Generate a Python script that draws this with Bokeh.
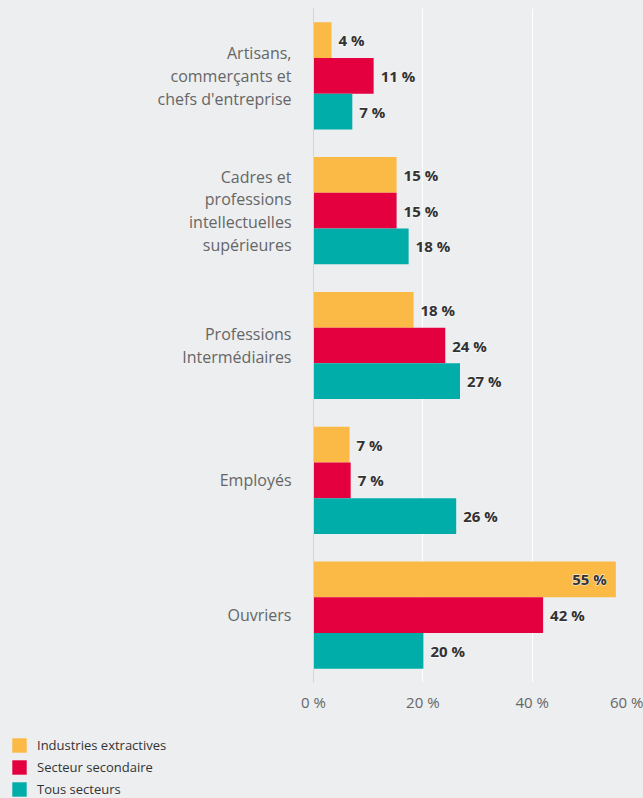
from bokeh.plotting import figure
from bokeh.layouts import column
from bokeh.models import ColumnDataSource, FactorRange, FixedTicker, Legend, LegendItem
from bokeh.transform import dodge
from bokeh.core.properties import value
from bokeh.embed import file_html
from bokeh.resources import INLINE

categories = [
    "Artisans,\ncommerçants et\nchefs d'entreprise",
    "Cadres et\nprofessions\nintellectuelles\nsupérieures",
    "Professions\nIntermédiaires",
    "Employés",
    "Ouvriers",
]
series_names = ["Industries extractives", "Secteur secondaire", "Tous secteurs"]
industries_extractives = [3.3, 15.2, 18.3, 6.6, 55.3]
secteur_secondaire = [11.0, 15.2, 24.1, 6.8, 42.0]
tous_secteurs = [7.1, 17.4, 26.8, 26.1, 20.1]
label_ie = ["4 %", "15 %", "18 %", "7 %", "55 %"]
label_ss = ["11 %", "15 %", "24 %", "7 %", "42 %"]
label_ts = ["7 %", "18 %", "27 %", "26 %", "20 %"]
x_ticks = [0, 20, 40, 60]
x_tick_labels = ["0 %", "20 %", "40 %", "60 %"]

colors = ["#fbb946", "#e4003f", "#00ada8"]
BG = "#eceef0"
FONT = "Open Sans"

p = figure(
    width=643, height=725,
    y_range=FactorRange(factors=list(reversed(categories)), range_padding=0),
    x_range=(0, 60),
    output_backend="svg", toolbar_location=None,
    min_border_left=313, min_border_right=2, min_border_top=8, min_border_bottom=43,
)
p.frame_align = False
p.background_fill_color = BG
p.border_fill_color = BG
p.outline_line_color = None

bar_h = 0.265
offsets = [bar_h, 0.0, -bar_h]
all_vals = [industries_extractives, secteur_secondaire, tous_secteurs]
all_labels = [label_ie, label_ss, label_ts]

for vals, labs, off, col in zip(all_vals, all_labels, offsets, colors):
    src = ColumnDataSource(dict(
        cat=categories, val=vals, lab=labs,
        align=["right" if v > 50 else "left" for v in vals],
        xoff=[-9 if v > 50 else 7 for v in vals],
    ))
    p.hbar(y=dodge("cat", off, range=p.y_range), right="val", left=0,
           height=bar_h, fill_color=col, line_color=None, source=src)
    for outline in ("white", None):
        p.text(x="val", y=dodge("cat", off, range=p.y_range), text="lab", source=src,
               text_align="align", x_offset="xoff", text_baseline="middle",
               text_font=value(FONT), text_font_size="15px", text_font_style="bold",
               text_color="#333333", text_outline_color=outline)

# axes
p.xaxis.ticker = FixedTicker(ticks=x_ticks)
p.xaxis.major_label_overrides = {t: l for t, l in zip(x_ticks, x_tick_labels)}
p.xaxis.axis_line_color = None
p.xaxis.major_tick_line_color = None
p.xaxis.minor_tick_line_color = None
p.xaxis.major_label_standoff = 3
p.xaxis.major_label_text_font = FONT
p.xaxis.major_label_text_font_size = "15px"
p.xaxis.major_label_text_color = "#666666"

p.yaxis.axis_line_color = "#ccd6eb"
p.yaxis.major_tick_line_color = None
p.yaxis.minor_tick_line_color = None
p.yaxis.major_label_standoff = 16
p.yaxis.major_label_text_font = FONT
p.yaxis.major_label_text_font_size = "16px"
p.yaxis.major_label_text_color = "#666666"
p.yaxis.major_label_text_line_height = 1.03

p.xgrid.grid_line_color = "white"
p.xgrid.grid_line_width = 1
p.ygrid.grid_line_color = None

# legend panel
leg = figure(width=643, height=73, x_axis_type=None, y_axis_type=None,
             output_backend="svg", toolbar_location=None,
             min_border_left=0, min_border_right=0, min_border_top=0, min_border_bottom=0)
leg.frame_align = False
leg.background_fill_color = BG
leg.border_fill_color = BG
leg.outline_line_color = None
leg.grid.visible = False
# zero-size proxy renderers, only used to give the legend its swatches
proxies = [leg.hbar(y=[0], left=[0], right=[0], height=0, fill_color=c, line_color=None)
           for c in colors]
legend = Legend(
    items=[LegendItem(label=n, renderers=[r]) for n, r in zip(series_names, proxies)],
    location=(10, 0), orientation="vertical",
    glyph_width=18, glyph_height=18, label_height=18, spacing=4,
    label_standoff=9, padding=0, margin=0,
    label_text_font=FONT, label_text_font_size="13px", label_text_color="#333333",
    border_line_color=None, background_fill_alpha=0,
)
leg.add_layout(legend, "center")

layout = column(p, leg, spacing=0, styles={"background-color": BG})
open("out.html", "w").write(file_html(layout, INLINE))
